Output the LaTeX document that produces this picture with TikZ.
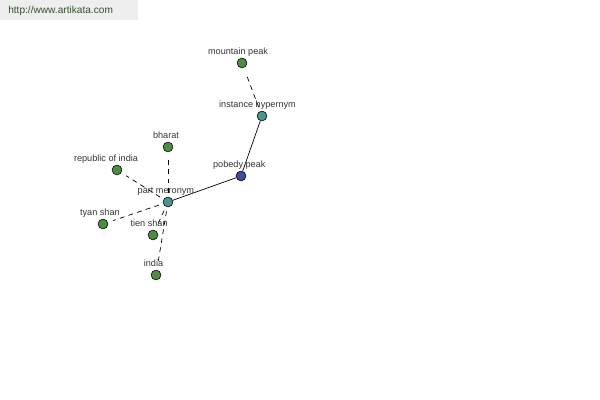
\documentclass[tikz,border=0pt]{standalone}
\usepackage{fontspec}
\setmainfont{Liberation Sans}
\usetikzlibrary{positioning}
\definecolor{wnleaf}{HTML}{4E8C42}
\definecolor{wnrel}{HTML}{4A958F}
\definecolor{wnroot}{HTML}{3E4C9C}
\definecolor{wnbar}{HTML}{EEEEEE}
\definecolor{wnurl}{HTML}{34502C}
\definecolor{wnlab}{HTML}{333333}

\begin{document}
\begin{tikzpicture}[x=0.025cm, y=-0.025cm,
  dot/.style={circle, draw=black, line width=0.4pt, inner sep=0pt, minimum size=7pt},
  leaf/.style={dot, fill=wnleaf},
  rel/.style={dot, fill=wnrel},
  root/.style={dot, fill=wnroot},
  lab/.style={font=\fontsize{6.5}{7.5}\selectfont, text=wnlab, inner sep=0pt, anchor=base},
  hard/.style={line width=0.5pt},
  soft/.style={line width=0.5pt, dash pattern=on 3.5pt off 3pt, shorten <=3pt, shorten >=4pt}]

  \useasboundingbox (0,0) rectangle (600,400);

  % site banner
  \fill[wnbar] (0,0) rectangle (138,20);
  \node[font=\fontsize{7.2}{8}\selectfont, text=wnurl, anchor=west, inner sep=0pt] (url) at (8,11) {http://www.artikata.com};

  % synset nodes
  \node[root] (pobedy) at (241,176) {};
  \node[rel]  (inst)   at (262,116) {};
  \node[rel]  (part)   at (168,202) {};
  \node[leaf] (mount)  at (242,63)  {};
  \node[leaf] (bharat) at (168,147) {};
  \node[leaf] (repub)  at (117,170) {};
  \node[leaf] (tyan)   at (103,224) {};
  \node[leaf] (tien)   at (153,235) {};
  \node[leaf] (india)  at (156,275) {};

  % edges
  \draw[hard] (pobedy) -- (inst);
  \draw[hard] (pobedy) -- (part);
  \draw[soft] (inst) -- (mount);
  \foreach \n in {bharat,repub,tyan,tien,india}
    \draw[soft] (part) -- (\n);

  % labels (shift left in pt)
  \foreach \n/\dx/\txt in {
    pobedy/-1.2/{pobedy peak},
    inst/-3.2/{instance hypernym},
    part/-1.5/{part meronym},
    mount/-2.8/{mountain peak},
    bharat/-1.4/{bharat},
    repub/-7.8/{republic of india},
    tyan/-2.2/{tyan shan},
    tien/-2.8/{tien shan},
    india/-1.8/{india}
  }
    \node[lab, xshift=\dx pt, yshift=5.9pt] (\n-lab) at (\n) {\txt};

\end{tikzpicture}
\end{document}
